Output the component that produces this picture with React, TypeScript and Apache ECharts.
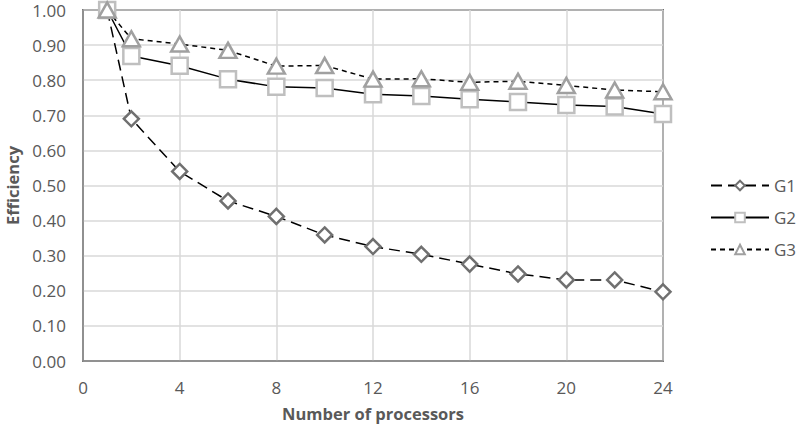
import React, { useEffect, useRef } from "react";
import * as echarts from "echarts";

const processors = [1, 2, 4, 6, 8, 10, 12, 14, 16, 18, 20, 22, 24];
const g1 = [1.0, 0.69, 0.54, 0.456, 0.412, 0.359, 0.326, 0.304, 0.276, 0.248, 0.231, 0.231, 0.197];
const g2 = [1.0, 0.869, 0.841, 0.803, 0.781, 0.778, 0.76, 0.755, 0.746, 0.738, 0.729, 0.725, 0.704];
const g3 = [1.0, 0.918, 0.903, 0.885, 0.84, 0.842, 0.803, 0.804, 0.794, 0.797, 0.785, 0.772, 0.767];
const seriesNames = ["G1", "G2", "G3"];

const FONT = "'Open Sans', sans-serif";
const TEXT = "#595959";

export default function App() {
  const ref = useRef<HTMLDivElement>(null);
  useEffect(() => {
    if (!ref.current) return;
    const chart = echarts.init(ref.current, undefined, { renderer: "svg" });
    const pair = (arr: number[]) => processors.map((p, i) => [p, arr[i]]);
    chart.setOption({
      animation: false,
      backgroundColor: "#ffffff",
      textStyle: { fontFamily: FONT },
      grid: {
        left: 83,
        right: 137,
        top: 10,
        bottom: 71,
        outerBoundsMode: "none",
        containLabel: false,
        show: true,
        borderColor: "#000000",
        borderWidth: 1.5,
        backgroundColor: "transparent",
      },
      legend: {
        orient: "vertical",
        left: 705,
        top: 172,
        itemWidth: 58,
        itemHeight: 12,
        itemGap: 15,
        textStyle: { fontFamily: FONT, fontSize: 17, color: TEXT },
        data: seriesNames,
      },
      xAxis: {
        type: "value",
        min: 0,
        max: 24,
        interval: 4,
        name: "Number of processors",
        nameLocation: "middle",
        nameGap: 44,
        nameTextStyle: { fontFamily: FONT, fontSize: 16.5, fontWeight: "bold", color: TEXT },
        axisLine: { show: true, lineStyle: { color: "#868686", width: 1.5 } },
        axisTick: { show: false },
        axisLabel: { fontFamily: FONT, fontSize: 17, color: TEXT, margin: 18 },
        splitLine: { show: true, lineStyle: { color: "#d9d9d9", width: 1.5 } },
      },
      yAxis: {
        type: "value",
        min: 0,
        max: 1,
        interval: 0.1,
        name: "Efficiency",
        nameLocation: "middle",
        nameGap: 61,
        nameTextStyle: { fontFamily: FONT, fontSize: 16.5, fontWeight: "bold", color: TEXT },
        axisLine: { show: true, lineStyle: { color: "#868686", width: 1.5 } },
        axisTick: { show: false },
        axisLabel: {
          fontFamily: FONT,
          fontSize: 17,
          color: TEXT,
          margin: 17,
          formatter: (v: number) => v.toFixed(2),
        },
        splitLine: { show: true, lineStyle: { color: "#d9d9d9", width: 1.5 } },
      },
      series: [
        {
          name: "G1",
          type: "line",
          data: pair(g1),
          symbol: "diamond",
          symbolSize: [15, 15],
          lineStyle: { color: "#000000", width: 1.5, type: [11, 6] },
          itemStyle: { color: "#ffffff", borderColor: "#707070", borderWidth: 2.5 },
          z: 3,
        },
        {
          name: "G2",
          type: "line",
          data: pair(g2),
          symbol: "rect",
          symbolSize: 16,
          lineStyle: { color: "#000000", width: 1.5, type: "solid" },
          itemStyle: { color: "#ffffff", borderColor: "#bfbfbf", borderWidth: 2.5 },
          z: 4,
        },
        {
          name: "G3",
          type: "line",
          data: pair(g3),
          symbol: "triangle",
          symbolSize: [17, 15],
          lineStyle: { color: "#000000", width: 1.5, type: [5, 4] },
          itemStyle: { color: "#ffffff", borderColor: "#a0a0a0", borderWidth: 2.5 },
          z: 5,
        },
      ],
    });
    return () => chart.dispose();
  }, []);
  return (
    <div
      ref={ref}
      style={{ position: "fixed", left: 0, top: 0, width: 800, height: 432 }}
    />
  );
}
